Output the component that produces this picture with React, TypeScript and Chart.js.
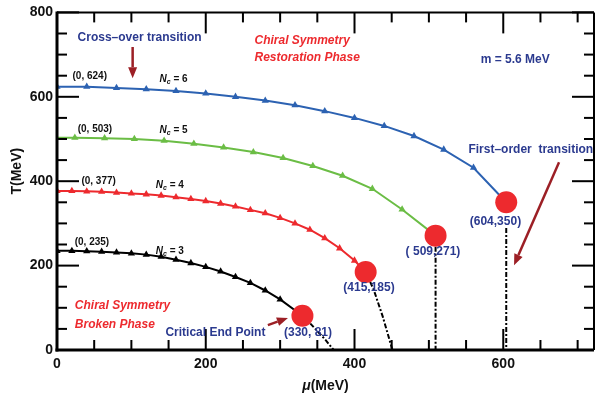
import React, { useEffect, useRef } from "react";
import { Chart, registerables } from "chart.js";

Chart.register(...registerables);

// ---------- data ----------
const nc6Mu = [0, 40, 80, 120, 160, 200, 240, 280, 320, 360, 400, 440, 480, 520, 560, 604];
const nc6T = [624, 624, 621, 618, 614, 608, 600, 591, 580, 566, 550, 531, 507, 475, 432, 350];

const nc5Mu = [0, 24, 64, 104, 144, 184, 224, 264, 304, 344, 384, 424, 464, 509];
const nc5T = [503, 503, 502, 500, 496, 489, 480, 469, 455, 436, 413, 382, 333, 271];

const nc4Mu = [0, 20, 40, 60, 80, 100, 120, 140, 160, 180, 200, 220, 240, 260, 280, 300, 320, 340, 360, 380, 400, 415];
const nc4T = [377, 377, 376, 375, 373, 371, 369, 366, 362, 358, 353, 347, 340, 332, 324, 313, 300, 285, 265, 241, 212, 185];

const nc3Mu = [0, 20, 40, 60, 80, 100, 120, 140, 160, 180, 200, 220, 240, 260, 280, 300, 330];
const nc3T = [235, 235, 234, 233, 231, 229, 226, 221, 214, 206, 197, 186, 173, 159, 141, 120, 81];

// first-order / continuation lines (dash-dot)
const tail3Mu = [330, 341, 361, 372];
const tail3T = [81, 62, 24, 0];
const tail4Mu = [415, 426, 438, 451];
const tail4T = [185, 142, 79, 0];
const vert5Mu = [509, 509];
const vert5T = [271, 0];
const vert6Mu = [604, 604];
const vert6T = [289, 0];

// critical end points
const cepMu = [604, 509, 415, 330];
const cepT = [350, 271, 185, 81];
const cepLabels = ["(604,350)", "( 509,271)", "(415,185)", "(330, 81)"];

const xTickLabels = [0, 200, 400, 600];
const yTickLabels = [0, 200, 400, 600, 800];

const FONT = '"Liberation Sans", Arial, Helvetica, sans-serif';
const BLUE = "#2c62b2";
const GREEN = "#6bbd45";
const RED = "#ed2a2e";
const DARKBLUE = "#2b3a8f";
const ARROW = "#9c1f25";

function pts(mu: number[], t: number[]) {
  return mu.map((m, i) => ({ x: m, y: t[i] }));
}
function radii(n: number, start: number, r: number) {
  return Array.from({ length: n }, (_, i) => (i >= start && i < n - 1 ? r : 0));
}

type Lbl = { text: string; mu: number; t: number; color: string; font: string; align?: CanvasTextAlign };

const labels: Lbl[] = [
  { text: "(0, 624)", mu: 44, t: 649, color: "#111", font: `bold 10px ${FONT}` },
  { text: "(0, 503)", mu: 51, t: 524, color: "#111", font: `bold 10px ${FONT}` },
  { text: "(0, 377)", mu: 56, t: 399, color: "#111", font: `bold 10px ${FONT}` },
  { text: "(0, 235)", mu: 47, t: 255, color: "#111", font: `bold 10px ${FONT}` },
  { text: "Cross\u2013over transition", mu: 111, t: 741, color: DARKBLUE, font: `bold 12px ${FONT}` },
  { text: "Chiral Symmetry", mu: 265.5, t: 734, color: RED, font: `italic bold 12px ${FONT}`, align: "left" },
  { text: "Restoration Phase", mu: 265.5, t: 692, color: RED, font: `italic bold 12px ${FONT}`, align: "left" },
  { text: "m = 5.6 MeV", mu: 616, t: 687, color: DARKBLUE, font: `bold 12px ${FONT}` },
  { text: "First\u2013order  transition", mu: 637, t: 474, color: DARKBLUE, font: `bold 12px ${FONT}` },
  { text: "Critical End Point", mu: 213, t: 41, color: DARKBLUE, font: `bold 12px ${FONT}` },
  { text: "Chiral Symmetry", mu: 24, t: 104, color: RED, font: `italic bold 12px ${FONT}`, align: "left" },
  { text: "Broken Phase", mu: 24, t: 61, color: RED, font: `italic bold 12px ${FONT}`, align: "left" },
];

const cepLabelPos = [
  { mu: 589.5, t: 305 },
  { mu: 505.5, t: 234 },
  { mu: 419.5, t: 148 },
  { mu: 337.5, t: 40 },
];

const ncLabels = [
  { n: "6", mu: 158, t: 642 },
  { n: "5", mu: 158, t: 521 },
  { n: "4", mu: 153, t: 390 },
  { n: "3", mu: 153, t: 235 },
];

const arrows = [
  { mu1: 101.7, t1: 718, mu2: 101.7, t2: 644 },
  { mu1: 675, t1: 445, mu2: 614.5, t2: 201 },
  { mu1: 283.5, t1: 59, mu2: 310.5, t2: 76 },
];

const decorPlugin = {
  id: "decor",
  afterDatasetsDraw(chart: any) {
    const { ctx, chartArea: a, scales } = chart;
    const x = scales.x;
    const y = scales.y;
    ctx.save();
    const seg = (x1: number, y1: number, x2: number, y2: number) => {
      ctx.beginPath();
      ctx.moveTo(x1, y1);
      ctx.lineTo(x2, y2);
      ctx.stroke();
    };
    // inward ticks
    ctx.strokeStyle = "#000";
    ctx.lineWidth = 2;
    for (let v = 0; v <= x.max; v += 50) {
      const px = x.getPixelForValue(v);
      const len = v % 200 === 0 ? 21 : 10;
      seg(px, a.bottom, px, a.bottom - len);
      seg(px, a.top, px, a.top + len);
    }
    for (let v = 0; v <= y.max; v += 50) {
      const py = y.getPixelForValue(v);
      const len = v % 200 === 0 ? 22 : 10;
      seg(a.left, py, a.left + len, py);
      seg(a.right, py, a.right - len, py);
    }
    // frame
    ctx.lineWidth = 2;
    seg(a.left, a.top, a.right, a.top);
    seg(a.right, a.top, a.right, a.bottom);
    ctx.lineWidth = 3;
    seg(a.left, a.top - 1, a.left, a.bottom + 1.5);
    seg(a.left - 1.5, a.bottom, a.right, a.bottom);

    // arrows
    ctx.strokeStyle = ARROW;
    ctx.fillStyle = ARROW;
    for (const ar of arrows) {
      const x1 = x.getPixelForValue(ar.mu1);
      const y1 = y.getPixelForValue(ar.t1);
      const x2 = x.getPixelForValue(ar.mu2);
      const y2 = y.getPixelForValue(ar.t2);
      const ang = Math.atan2(y2 - y1, x2 - x1);
      const hl = 11;
      const hw = 4.5;
      const bx = x2 - hl * Math.cos(ang);
      const by = y2 - hl * Math.sin(ang);
      ctx.lineWidth = 2.5;
      seg(x1, y1, bx, by);
      ctx.beginPath();
      ctx.moveTo(x2, y2);
      ctx.lineTo(bx + hw * Math.sin(ang), by - hw * Math.cos(ang));
      ctx.lineTo(bx - hw * Math.sin(ang), by + hw * Math.cos(ang));
      ctx.closePath();
      ctx.fill();
    }

    // labels
    ctx.textBaseline = "middle";
    for (const l of labels) {
      ctx.font = l.font;
      ctx.fillStyle = l.color;
      ctx.textAlign = l.align || "center";
      ctx.fillText(l.text, x.getPixelForValue(l.mu), y.getPixelForValue(l.t));
    }
    ctx.font = `bold 12px ${FONT}`;
    ctx.fillStyle = DARKBLUE;
    ctx.textAlign = "center";
    cepLabels.forEach((s, i) => {
      ctx.fillText(s, x.getPixelForValue(cepLabelPos[i].mu), y.getPixelForValue(cepLabelPos[i].t));
    });

    // N_c labels
    ctx.textAlign = "left";
    ctx.fillStyle = "#111";
    for (const nl of ncLabels) {
      let px = x.getPixelForValue(nl.mu) - 15;
      const py = y.getPixelForValue(nl.t);
      ctx.font = `italic bold 10px ${FONT}`;
      ctx.fillText("N", px, py);
      px += ctx.measureText("N").width;
      ctx.font = `italic bold 7px ${FONT}`;
      ctx.fillText("c", px, py + 3);
      px += ctx.measureText("c").width;
      ctx.font = `bold 10px ${FONT}`;
      ctx.fillText(" = " + nl.n, px, py);
    }

    // axis titles
    ctx.fillStyle = "#111";
    ctx.save();
    ctx.translate(a.left - 40, (a.top + a.bottom) / 2 - 10);
    ctx.rotate(-Math.PI / 2);
    ctx.textAlign = "center";
    ctx.font = `bold 14px ${FONT}`;
    ctx.fillText("T(MeV)", 0, 0);
    ctx.restore();

    const cx = (a.left + a.right) / 2 + 0;
    const ty = a.bottom + 36;
    ctx.font = `bold 14px ${FONT}`;
    const restW = ctx.measureText("(MeV)").width;
    ctx.font = `italic bold 14px ${FONT}`;
    const muW = ctx.measureText("\u03bc").width;
    const startX = cx - (restW + muW) / 2;
    ctx.textAlign = "left";
    ctx.fillText("\u03bc", startX, ty);
    ctx.font = `bold 14px ${FONT}`;
    ctx.fillText("(MeV)", startX + muW, ty);
    ctx.restore();
  },
};

export default function App() {
  const ref = useRef<HTMLCanvasElement | null>(null);
  useEffect(() => {
    if (!ref.current) return;
    const lineDs = (mu: number[], t: number[], color: string, start: number) => ({
      type: "line" as const,
      data: pts(mu, t),
      borderColor: color,
      backgroundColor: color,
      borderWidth: 2,
      tension: 0,
      pointStyle: "triangle",
      pointRadius: radii(mu.length, start, 4.2),
      pointBorderWidth: 0,
      pointHoverRadius: 0,
      order: 1,
    });
    const dashDs = (mu: number[], t: number[]) => ({
      type: "line" as const,
      data: pts(mu, t),
      borderColor: "#000",
      borderWidth: 2,
      borderDash: [5, 2, 2, 2],
      pointRadius: 0,
      tension: 0,
      order: 2,
    });
    const chart = new Chart(ref.current, {
      type: "line",
      data: {
        datasets: [
          {
            type: "scatter" as const,
            data: pts(cepMu, cepT),
            backgroundColor: RED,
            borderColor: RED,
            pointRadius: 11,
            pointBorderWidth: 0,
            showLine: false,
            order: 0,
          } as any,
          lineDs(nc6Mu, nc6T, BLUE, 0),
          lineDs(nc5Mu, nc5T, GREEN, 1),
          lineDs(nc4Mu, nc4T, RED, 0),
          lineDs(nc3Mu, nc3T, "#000", 0),
          dashDs(tail3Mu, tail3T),
          dashDs(tail4Mu, tail4T),
          dashDs(vert5Mu, vert5T),
          dashDs(vert6Mu, vert6T),
        ],
      },
      options: {
        animation: false,
        responsive: false,
        devicePixelRatio: 1,
        layout: { padding: { top: 12, right: 1, left: 0, bottom: 0 } },
        plugins: { legend: { display: false }, tooltip: { enabled: false } },
        events: [],
        scales: {
          x: {
            type: "linear",
            min: 0,
            max: 722,
            afterFit: (s: any) => {
              s.height = 50;
            },
            afterBuildTicks: (s: any) => {
              s.ticks = xTickLabels.map((v) => ({ value: v }));
            },
            ticks: {
              includeBounds: false,
              padding: 6,
              color: "#111",
              font: { family: FONT, size: 14, weight: "bold" },
            },
            grid: { display: false, drawTicks: false },
            border: { display: false },
          },
          y: {
            type: "linear",
            min: 0,
            max: 800,
            afterFit: (s: any) => {
              s.width = 57;
            },
            afterBuildTicks: (s: any) => {
              s.ticks = yTickLabels.map((v) => ({ value: v }));
            },
            ticks: {
              includeBounds: false,
              padding: 4,
              color: "#111",
              font: { family: FONT, size: 14, weight: "bold" },
            },
            grid: { display: false, drawTicks: false },
            border: { display: false },
          },
        },
      } as any,
      plugins: [decorPlugin],
    });
    return () => chart.destroy();
  }, []);
  return (
    <div style={{ position: "absolute", left: 0, top: 0, width: 605, height: 400, background: "#fff" }}>
      <canvas ref={ref} width={605} height={400} />
    </div>
  );
}
